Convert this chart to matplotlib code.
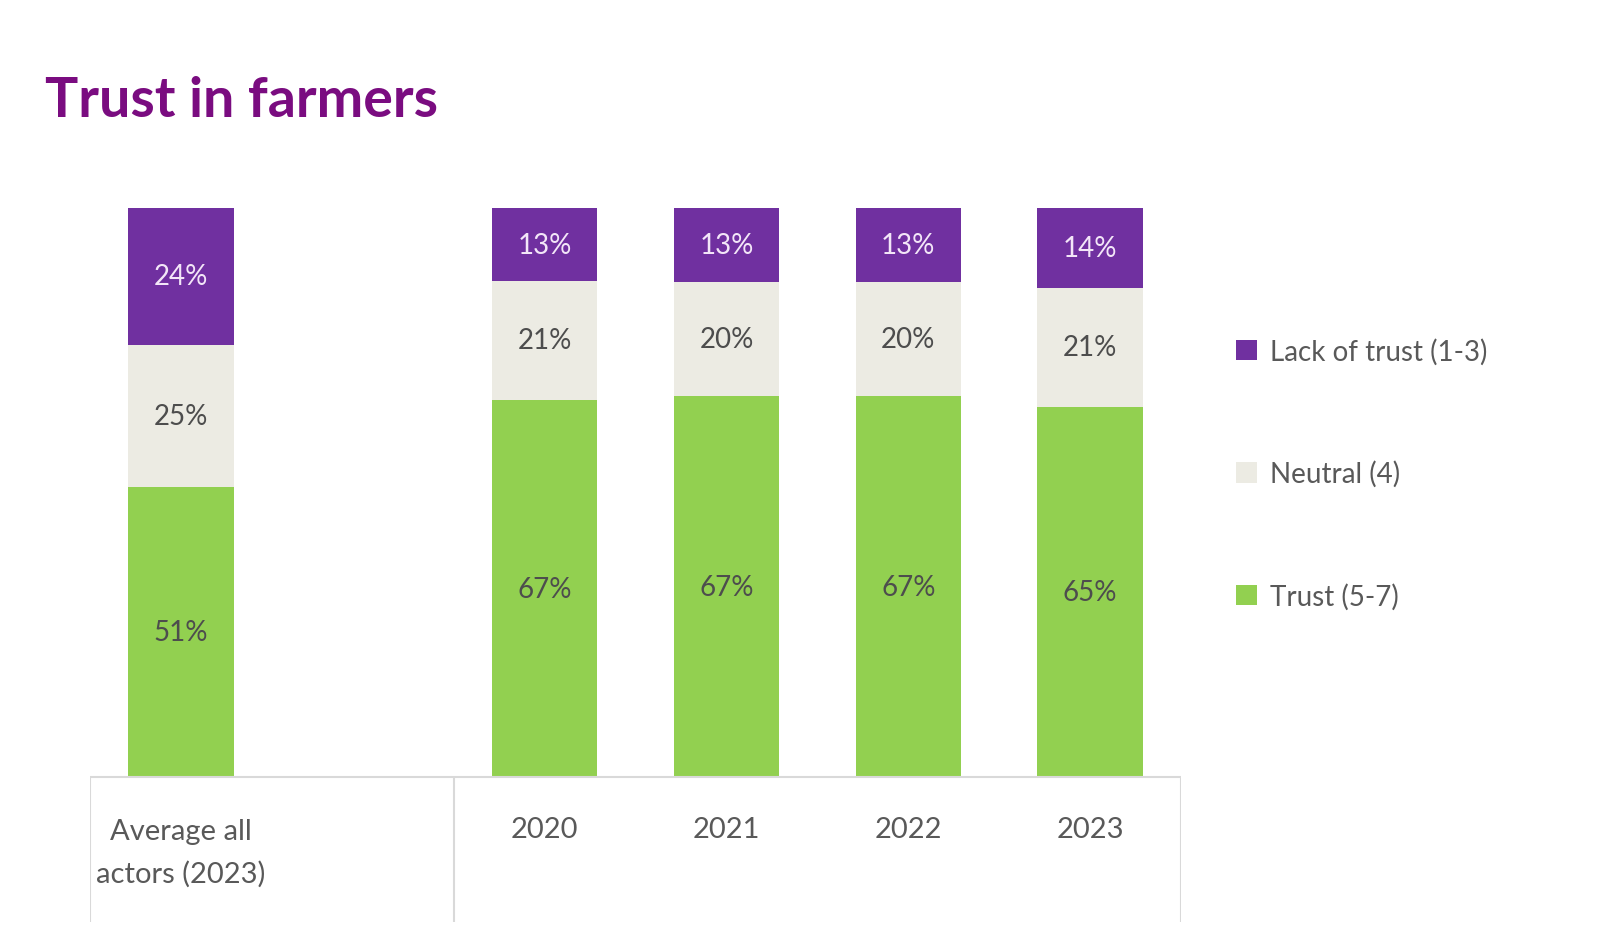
import numpy as np
import matplotlib
matplotlib.use("Agg")
import matplotlib.pyplot as plt
from matplotlib.patches import Patch

plt.rcParams['font.family'] = ['Lato', 'DejaVu Sans']

# data
categories = ["Average all\nactors (2023)", "2020", "2021", "2022", "2023"]
lack = [24, 13, 13, 13, 14]
neutral = [25, 21, 20, 20, 21]
trust = [51, 67, 67, 67, 65]
series_names = ["Lack of trust (1-3)", "Neutral (4)", "Trust (5-7)"]

c_lack = "#7030a0"
c_neutral = "#ecebe3"
c_trust = "#92d050"
c_text = "#4d4d4d"

x = np.array([0, 2, 3, 4, 5])
lack_a = np.array(lack, dtype=float)
neu_a = np.array(neutral, dtype=float)
tr_a = np.array(trust, dtype=float)
tot = lack_a + neu_a + tr_a
# bars are drawn as 100% stacks
tr_h = tr_a / tot * 100
neu_h = neu_a / tot * 100
lack_h = lack_a / tot * 100

fig = plt.figure(figsize=(16, 9.53), dpi=100)
ax = fig.add_axes([0.05625, 0.0315, 0.6819, 0.7492])

w = 0.58
ax.bar(x, tr_h, width=w, color=c_trust)
ax.bar(x, neu_h, width=w, bottom=tr_h, color=c_neutral)
ax.bar(x, lack_h, width=w, bottom=tr_h + neu_h, color=c_lack)

for i in range(len(x)):
    ax.text(x[i], tr_h[i] / 2, f"{trust[i]}%", ha='center', va='center',
            fontsize=20, color=c_text)
    ax.text(x[i], tr_h[i] + neu_h[i] / 2, f"{neutral[i]}%", ha='center', va='center',
            fontsize=20, color=c_text)
    ax.text(x[i], tr_h[i] + neu_h[i] + lack_h[i] / 2, f"{lack[i]}%", ha='center',
            va='center', fontsize=20, color="#f3e6f8")

ax.set_xlim(-0.5, 5.5)
ax.set_ylim(-25.4, 100)
ax.axis('off')

# table-like frame under the bars
line_c = "#d9d9d9"
ax.hlines(0, -0.5, 5.5, color=line_c, lw=1.5)
ax.vlines([-0.5, 1.5, 5.5], -25.4, 0, color=line_c, lw=1.5)

for i in range(len(x)):
    if i == 0:
        ax.text(x[i], -13.2, categories[i], ha='center', va='center', fontsize=21,
                color="#595959", linespacing=1.7)
    else:
        ax.text(x[i], -9.1, categories[i], ha='center', va='center', fontsize=21,
                color="#595959")

handles = [Patch(facecolor=c_lack), Patch(facecolor=c_neutral), Patch(facecolor=c_trust)]
fig.legend(handles, series_names, loc='upper left', bbox_to_anchor=(0.757, 0.671),
           frameon=False, fontsize=20, labelspacing=3.45, handlelength=0.75,
           handleheight=0.75, handletextpad=0.45, labelcolor="#595959")

fig.text(0.028, 0.877, "Trust in farmers", fontsize=40, fontweight='bold',
         color="#7a0c80", ha='left', va='baseline')

fig.savefig("out.png", dpi=100, facecolor='white')
